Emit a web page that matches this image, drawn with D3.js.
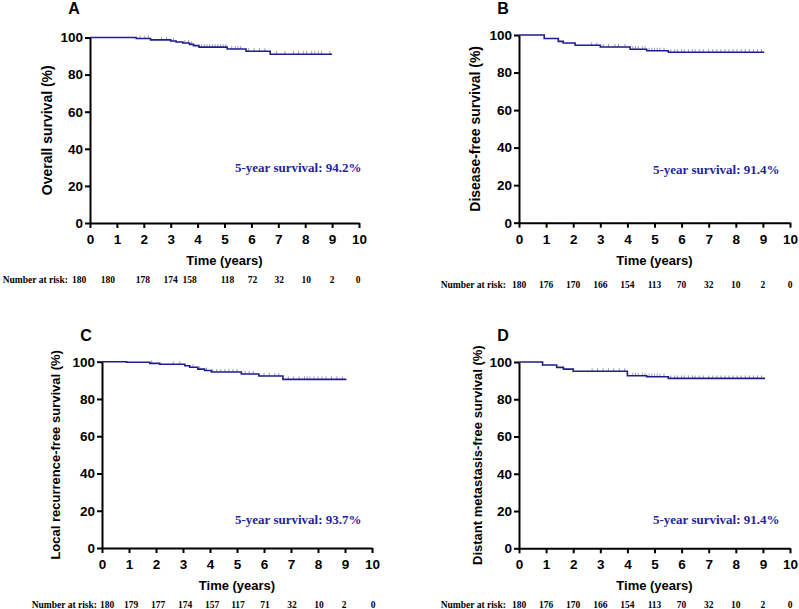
<!DOCTYPE html>
<html>
<head>
<meta charset="utf-8">
<script src="https://cdn.jsdelivr.net/npm/d3@7"></script>
<style>
  body { margin: 0; background: #fff; }
  svg { display: block; }
</style>
</head>
<body>
<div id="chart"></div>
<script>
const timeTicks = [0, 1, 2, 3, 4, 5, 6, 7, 8, 9, 10];
const survTicks = [0, 20, 40, 60, 80, 100];
const letters = ['A', 'B', 'C', 'D'];
const yTitles = ['Overall survival (%)', 'Disease-free survival (%)',
  'Local recurrence-free survival (%)', 'Distant metastasis-free survival (%)'];
const fiveYear = [94.2, 91.4, 93.7, 91.4];

const riskA = [180, 180, 178, 174, 158, 118, 72, 32, 10, 2, 0];
const riskB = [180, 176, 170, 166, 154, 113, 70, 32, 10, 2, 0];
const riskC = [180, 179, 177, 174, 157, 117, 71, 32, 10, 2, 0];
const riskD = [180, 176, 170, 166, 154, 113, 70, 32, 10, 2, 0];

// step curves: time of each drop (years) and survival (%) after it, last = end of follow-up
const timesA = [0, 1.72, 2.25, 3.0, 3.2, 3.45, 3.7, 3.85, 4.05, 5.1, 5.8, 6.7, 9.0];
const survA  = [100, 99.5, 98.7, 98.1, 97.6, 97.0, 96.3, 95.6, 94.8, 93.8, 92.6, 91.0, 91.0];
const timesB = [0, 0.93, 1.45, 1.63, 2.07, 3.0, 4.1, 4.71, 5.51, 9.05];
const survB  = [100, 98.1, 96.6, 95.7, 94.5, 93.6, 92.4, 91.6, 90.8, 90.8];
const timesC = [0, 0.91, 1.77, 2.14, 3.07, 3.25, 3.55, 3.8, 4.05, 5.16, 5.81, 6.7, 9.05];
const survC  = [100, 99.7, 99.1, 98.6, 97.8, 97.0, 96.0, 95.3, 94.5, 93.4, 92.3, 90.5, 90.5];
const timesD = [0, 0.87, 1.39, 1.64, 2.0, 4.0, 4.71, 5.51, 9.08];
const survD  = [100, 98.4, 97.1, 96.2, 95.0, 92.6, 92.1, 91.2, 91.2];

// censored observations (years)
const censA = [1.86, 2.04, 2.17, 2.66, 2.85, 3.1, 3.53, 3.66, 3.78, 4.15, 4.25, 4.35, 4.45, 4.55,
  4.65, 4.75, 4.85, 4.95, 5.05, 5.27, 5.4, 5.5, 5.6, 5.9, 6.1, 6.3, 6.5, 6.94, 7.25, 7.56, 7.75,
  7.93, 8.05, 8.24, 8.36, 8.49, 8.61, 8.92];
const censB = [2.68, 2.87, 3.11, 3.3, 3.54, 3.67, 3.91, 4.2, 4.3, 4.4, 4.55, 4.65, 4.8, 4.9, 5.0,
  5.1, 5.2, 5.35, 5.6, 5.75, 5.85, 6.0, 6.1, 6.25, 6.4, 6.5, 6.65, 6.8, 7.0, 7.15, 7.3, 7.45, 7.6,
  7.75, 7.9, 8.05, 8.2, 8.35, 8.5, 8.65, 8.8, 8.95];
const censC = [1.84, 2.64, 2.88, 3.37, 3.62, 3.87, 4.1, 4.25, 4.4, 4.55, 4.7, 4.85, 5.0, 5.3, 5.45,
  5.6, 6.0, 6.2, 6.4, 6.55, 6.9, 7.1, 7.3, 7.5, 7.6, 7.7, 7.85, 8.0, 8.15, 8.3, 8.5, 8.7, 8.9];
const censD = [2.7, 2.9, 3.1, 3.3, 3.5, 3.7, 3.9, 4.2, 4.3, 4.4, 4.55, 4.65, 4.8, 4.9, 5.0, 5.1,
  5.2, 5.35, 5.6, 5.75, 5.85, 6.0, 6.1, 6.25, 6.4, 6.5, 6.65, 6.8, 7.0, 7.15, 7.3, 7.45, 7.6, 7.75,
  7.9, 8.05, 8.2, 8.35, 8.5, 8.65, 8.8, 8.95];

const w = 799;
const h = 609;
const lineColor = '#1e1e8c';
const textBlue = '#25259a';
const sans = 'Liberation Sans, Arial, sans-serif';
const serif = 'Liberation Serif, Times New Roman, serif';

// layout of the four panels (riskNudge: small horizontal shifts of the at-risk numbers)
const layout = [
  {x0: 90, x1: 359, yTop: 37.5, yBot: 223, letterX: 74, letterY: 14, titleX: 47, titleSize: 14,
    riskY: 283, riskLabelX: 68, noteX: 235, noteY: 172,
    riskNudge: [-11, -9, -1, 0, -8, 3, 1, 1, 1, 0, -1]},
  {x0: 519, x1: 790, yTop: 35, yBot: 222.7, letterX: 503, letterY: 14, titleX: 475, titleSize: 14,
    riskY: 288, riskLabelX: 506, noteX: 653, noteY: 174,
    riskNudge: [0, 0, 0, 0, 0, 0, 0, 0, 0, 0, 0]},
  {x0: 102, x1: 372, yTop: 361.7, yBot: 548, letterX: 86, letterY: 341, titleX: 55, titleSize: 13,
    riskY: 608, riskLabelX: 97, noteX: 235, noteY: 524,
    riskNudge: [5, 2, 2, 2, 2, 1, 1, 1, 1, -1, 1]},
  {x0: 519, x1: 790, yTop: 362, yBot: 548.3, letterX: 503, letterY: 341, titleX: 477, titleSize: 13,
    riskY: 608, riskLabelX: 506, noteX: 653, noteY: 524,
    riskNudge: [0, 0, 0, 0, 0, 0, 0, 0, 0, 0, 0]}
];

const series = [
  {times: timesA, surv: survA, cens: censA, risk: riskA},
  {times: timesB, surv: survB, cens: censB, risk: riskB},
  {times: timesC, surv: survC, cens: censC, risk: riskC},
  {times: timesD, surv: survD, cens: censD, risk: riskD}
];

const svg = d3.select('#chart')
  .append('svg')
  .attr('width', w)
  .attr('height', h);

series.forEach((s, i) => {
  const L = layout[i];
  const xScale = d3.scaleLinear().domain([0, 10]).range([L.x0, L.x1]);
  const yScale = d3.scaleLinear().domain([0, 100]).range([L.yBot, L.yTop]);
  const g = svg.append('g');

  // axes
  const xAxis = d3.axisBottom(xScale).tickValues(timeTicks).tickSize(5).tickSizeOuter(0).tickPadding(4);
  const yAxis = d3.axisLeft(yScale).tickValues(survTicks).tickSize(5).tickSizeOuter(0).tickPadding(2);
  const gx = g.append('g')
    .attr('transform', `translate(0,${L.yBot})`)
    .call(xAxis);
  const gy = g.append('g')
    .attr('transform', `translate(${L.x0},0)`)
    .call(yAxis);
  [gx, gy].forEach(ax => {
    ax.select('.domain').attr('stroke', '#000').attr('stroke-width', 2);
    ax.selectAll('.tick line').attr('stroke', '#000').attr('stroke-width', 2);
    ax.selectAll('.tick text')
      .attr('fill', '#000')
      .style('font-family', sans)
      .style('font-weight', 'bold')
      .style('font-size', '13.5px');
  });
  gx.selectAll('.tick text').attr('dy', '0.9em');

  // axis titles
  g.append('text')
    .text('Time (years)')
    .attr('x', xScale(5))
    .attr('y', L.yBot + 42)
    .attr('text-anchor', 'middle')
    .style('font-family', sans)
    .style('font-weight', 'bold')
    .style('font-size', '13px');
  g.append('text')
    .text(yTitles[i])
    .attr('transform', `translate(${L.titleX},${(L.yTop + L.yBot) / 2}) rotate(-90)`)
    .attr('text-anchor', 'middle')
    .attr('dominant-baseline', 'central')
    .style('font-family', sans)
    .style('font-weight', 'bold')
    .style('font-size', L.titleSize + 'px');

  // panel letter
  g.append('text')
    .text(letters[i])
    .attr('x', L.letterX)
    .attr('y', L.letterY)
    .attr('text-anchor', 'middle')
    .style('font-family', sans)
    .style('font-weight', 'bold')
    .style('font-size', '16px');

  // survival step curve
  const pts = s.times.map((t, k) => [t, s.surv[k]]);
  const line = d3.line()
    .x(d => xScale(d[0]))
    .y(d => yScale(d[1]))
    .curve(d3.curveStepAfter);
  g.append('path')
    .attr('d', line(pts))
    .attr('fill', 'none')
    .attr('stroke', lineColor)
    .attr('stroke-width', 1.6);

  // censor marks
  const survAt = t => s.surv[Math.max(0, d3.bisectRight(s.times, t) - 1)];
  g.selectAll('.cens')
    .data(s.cens)
    .enter()
    .append('line')
    .attr('x1', d => xScale(d))
    .attr('x2', d => xScale(d))
    .attr('y1', d => yScale(survAt(d)) - 3)
    .attr('y2', d => yScale(survAt(d)))
    .attr('stroke', lineColor)
    .attr('stroke-opacity', 0.6)
    .attr('stroke-width', 0.8);

  // 5-year survival note
  g.append('text')
    .text(`5-year survival: ${fiveYear[i]}%`)
    .attr('x', L.noteX)
    .attr('y', L.noteY)
    .attr('fill', textBlue)
    .style('font-family', serif)
    .style('font-weight', 'bold')
    .style('font-size', '13px');

  // number at risk
  g.append('text')
    .text('Number at risk:')
    .attr('x', L.riskLabelX)
    .attr('y', L.riskY)
    .attr('text-anchor', 'end')
    .style('font-family', serif)
    .style('font-weight', 'bold')
    .style('font-size', '9.5px');
  g.selectAll('.risk')
    .data(s.risk)
    .enter()
    .append('text')
    .text(d => d)
    .attr('x', (d, k) => xScale(timeTicks[k]) + L.riskNudge[k])
    .attr('y', L.riskY)
    .attr('text-anchor', 'middle')
    .style('font-family', serif)
    .style('font-weight', 'bold')
    .style('font-size', '9.5px');
});
</script>
</body>
</html>
